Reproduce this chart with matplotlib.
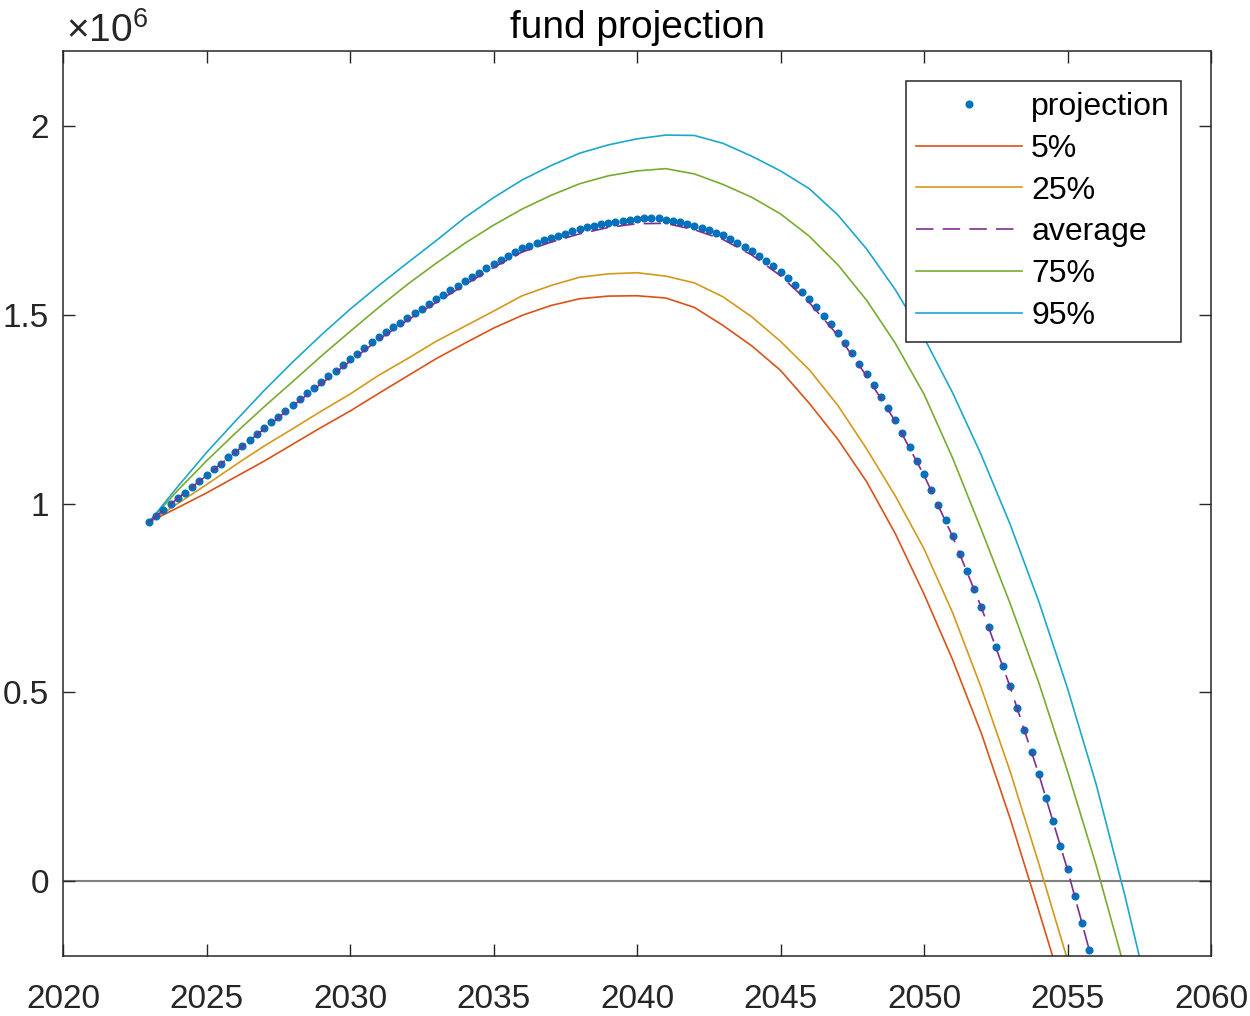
import numpy as np
import matplotlib
matplotlib.use('Agg')
import matplotlib.pyplot as plt

plt.rcParams['font.family'] = ['Liberation Sans', 'DejaVu Sans']
plt.rcParams['mathtext.fontset'] = 'custom'
plt.rcParams['mathtext.rm'] = 'Liberation Sans'
plt.rcParams['mathtext.it'] = 'Liberation Sans'

# values are in units of 1e6 (axis shows x10^6)
proj_years = np.arange(2023, 2056, 0.25)   # quarterly
projection = [
    0.951, 0.967, 0.983, 0.998,
    1.014, 1.029, 1.045, 1.060,
    1.075, 1.091, 1.106, 1.122,
    1.137, 1.153, 1.168, 1.184,
    1.199, 1.215, 1.230, 1.246,
    1.261, 1.276, 1.292, 1.307,
    1.322, 1.337, 1.352, 1.367,
    1.382, 1.397, 1.412, 1.427,
    1.441, 1.454, 1.467, 1.480,
    1.493, 1.505, 1.517, 1.529,
    1.541, 1.553, 1.565, 1.577,
    1.589, 1.601, 1.612, 1.624,
    1.635, 1.646, 1.657, 1.667,
    1.677, 1.684, 1.691, 1.698,
    1.704, 1.710, 1.716, 1.722,
    1.727, 1.732, 1.736, 1.740,
    1.744, 1.747, 1.750, 1.753,
    1.755, 1.757, 1.757, 1.756,
    1.753, 1.750, 1.746, 1.742,
    1.737, 1.731, 1.725, 1.718,
    1.711, 1.701, 1.691, 1.680,
    1.669, 1.656, 1.643, 1.629,
    1.614, 1.597, 1.579, 1.560,
    1.541, 1.520, 1.498, 1.475,
    1.452, 1.425, 1.398, 1.371,
    1.343, 1.313, 1.283, 1.252,
    1.221, 1.186, 1.150, 1.114,
    1.077, 1.036, 0.996, 0.955,
    0.913, 0.867, 0.820, 0.773,
    0.725, 0.673, 0.620, 0.568,
    0.515, 0.458, 0.400, 0.342,
    0.283, 0.220, 0.157, 0.093,
    0.030, -0.041, -0.112, -0.183,
]

# yearly percentile paths, starting 2023
p5 = [0.951, 0.989, 1.028, 1.070, 1.112, 1.157, 1.202, 1.245, 1.292, 1.338,
      1.384, 1.425, 1.465, 1.499, 1.525, 1.543, 1.550, 1.551, 1.545, 1.520,
      1.472, 1.418, 1.353, 1.266, 1.170, 1.058, 0.920, 0.760, 0.585, 0.390,
      0.165, -0.080, -0.330]
p25 = [0.951, 1.000, 1.050, 1.102, 1.152, 1.198, 1.245, 1.290, 1.340, 1.384,
       1.430, 1.470, 1.510, 1.551, 1.578, 1.600, 1.609, 1.612, 1.603, 1.585,
       1.548, 1.495, 1.430, 1.355, 1.260, 1.145, 1.020, 0.880, 0.710, 0.510,
       0.290, 0.045, -0.210]
average = [0.951, 1.014, 1.074, 1.136, 1.197, 1.258, 1.318, 1.377, 1.435, 1.486,
           1.533, 1.580, 1.626, 1.667, 1.693, 1.715, 1.732, 1.742, 1.743, 1.726,
           1.700, 1.659, 1.604, 1.533, 1.446, 1.338, 1.218, 1.075, 0.912, 0.724,
           0.514, 0.282, 0.029, -0.252, -0.550]
p75 = [0.951, 1.035, 1.113, 1.186, 1.256, 1.323, 1.391, 1.456, 1.520, 1.581,
       1.637, 1.690, 1.738, 1.781, 1.817, 1.848, 1.869, 1.882, 1.888, 1.874,
       1.846, 1.812, 1.768, 1.709, 1.633, 1.539, 1.425, 1.290, 1.120, 0.930,
       0.735, 0.525, 0.290, 0.040, -0.235]
p95 = [0.951, 1.045, 1.135, 1.218, 1.299, 1.375, 1.447, 1.515, 1.578, 1.638,
       1.697, 1.758, 1.811, 1.858, 1.896, 1.929, 1.951, 1.967, 1.977, 1.976,
       1.955, 1.921, 1.882, 1.835, 1.765, 1.675, 1.567, 1.440, 1.293, 1.128,
       0.945, 0.740, 0.510, 0.255, -0.040, -0.360]

xticks = [2020, 2025, 2030, 2035, 2040, 2045, 2050, 2055, 2060]
yticks = [0, 0.5, 1, 1.5, 2]
ytick_labels = ['0', '0.5', '1', '1.5', '2']

def yrs(vals):
    return 2023 + np.arange(len(vals))

fig = plt.figure(figsize=(12.5, 10.16), dpi=100)
ax = fig.add_axes([63/1250, 60/1016, 1148/1250, 905/1016])

ax.axhline(0, color='#808080', lw=1.5, zorder=1)
ax.plot(proj_years, projection, 'o', color='#0072BD', ms=5.8, mew=0, label='projection', zorder=3)
ax.plot(yrs(p5), p5, color='#D95319', lw=1.2, label='5%', zorder=2)
ax.plot(yrs(p25), p25, color='#D4981A', lw=1.2, label='25%', zorder=2)
ax.plot(yrs(average), average, color='#7E2F8E', lw=1.2, dashes=(10.5, 5.5), label='average', zorder=4)
ax.plot(yrs(p75), p75, color='#77AC30', lw=1.2, label='75%', zorder=2)
ax.plot(yrs(p95), p95, color='#1CA7CB', lw=1.2, label='95%', zorder=2)

ax.set_xlim(2020, 2060)
ax.set_ylim(-0.2, 2.2)
ax.set_xticks(xticks)
ax.set_xticklabels([str(t) for t in xticks])
ax.set_yticks(yticks)
ax.set_yticklabels(ytick_labels)
ax.tick_params(direction='in', length=8.5, width=1, colors='#262626',
               labelsize=24, top=True, right=True)
ax.tick_params(axis='x', pad=20)
ax.tick_params(axis='y', pad=10)
for s in ax.spines.values():
    s.set_color('#262626')
    s.set_linewidth(1.1)

ax.set_title('fund projection', fontsize=28, pad=9, color='black')
ax.text(0.003, 1.010, r'$\times10^{6}$', transform=ax.transAxes,
        fontsize=28, ha='left', va='baseline', color='#262626')

leg = ax.legend(loc='upper right', fontsize=23, numpoints=1,
                handlelength=3.3, handletextpad=0.3, labelspacing=0.37,
                borderpad=0.33, borderaxespad=0.95, fancybox=False,
                framealpha=1)
leg.get_frame().set_edgecolor('#262626')
leg.get_frame().set_linewidth(1.1)

fig.savefig('out.png', dpi=100)
